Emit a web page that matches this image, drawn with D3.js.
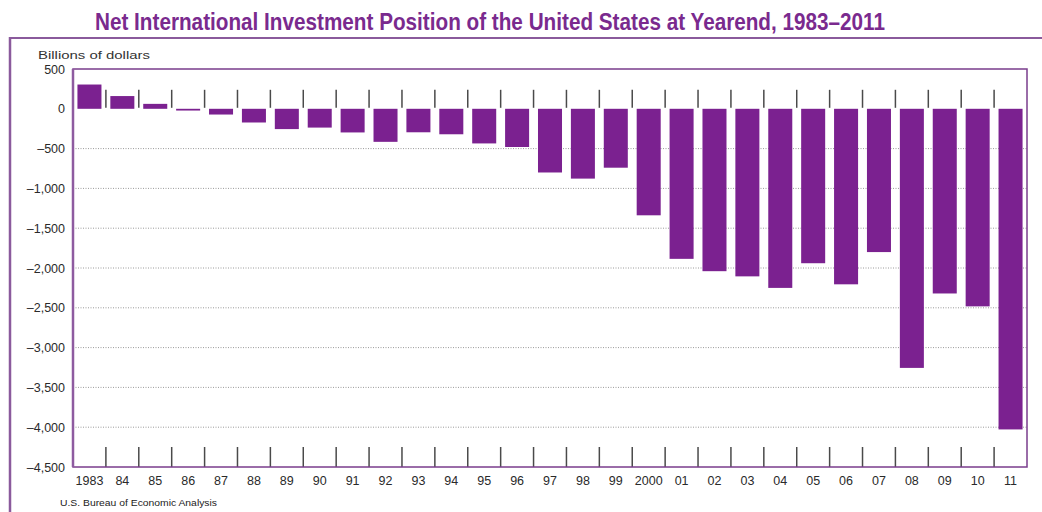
<!DOCTYPE html>
<html>
<head>
<meta charset="utf-8">
<script src="https://cdn.jsdelivr.net/npm/d3@7"></script>
<style>
  html, body { margin: 0; padding: 0; background: #ffffff; }
  svg { display: block; }
  text { font-family: "Liberation Sans", Arial, sans-serif; }
</style>
</head>
<body>
<svg id="chart" width="1042" height="512"></svg>
<script>
// Net international investment position, billions of dollars, at yearend
const years = [1983, 1984, 1985, 1986, 1987, 1988, 1989, 1990, 1991, 1992,
               1993, 1994, 1995, 1996, 1997, 1998, 1999, 2000, 2001, 2002,
               2003, 2004, 2005, 2006, 2007, 2008, 2009, 2010, 2011];
const yearLabels = ["1983", "84", "85", "86", "87", "88", "89", "90", "91", "92",
                    "93", "94", "95", "96", "97", "98", "99", "2000", "01", "02",
                    "03", "04", "05", "06", "07", "08", "09", "10", "11"];
const positions = [305, 160, 62, -22, -72, -172, -255, -236, -297, -415,
                   -295, -320, -435, -480, -800, -877, -740, -1338, -1885, -2040,
                   -2105, -2250, -1940, -2205, -1800, -3255, -2320, -2482, -4028];
const valueTicks = [500, 0, -500, -1000, -1500, -2000, -2500, -3000, -3500, -4000, -4500];

const svg = d3.select("#chart");
const purple = "#7b2190";
const frame = "#8a5a9c";

const plotLeft = 73, plotRight = 1027, plotTop = 69, plotBottom = 467;

const x = d3.scaleBand()
  .domain(years)
  .range([plotLeft, plotRight])
  .paddingInner(0.27)
  .paddingOuter(0.135);

const y = d3.scaleLinear()
  .domain([-4500, 500])
  .range([plotBottom, plotTop]);

// Title
svg.append("text")
  .attr("x", 95)
  .attr("y", 30)
  .attr("textLength", 790)
  .attr("lengthAdjust", "spacingAndGlyphs")
  .style("font-family", "'Liberation Sans Narrow', 'Liberation Sans', Arial, sans-serif")
  .style("font-weight", "bold")
  .style("font-size", "24px")
  .style("fill", "#7a2a8e")
  .text("Net International Investment Position of the United States at Yearend, 1983\u20132011");

// Outer panel edges
svg.append("line")
  .attr("x1", 10).attr("x2", 1042).attr("y1", 38).attr("y2", 38)
  .attr("stroke", frame).attr("stroke-width", 2);
svg.append("line")
  .attr("x1", 10).attr("x2", 10).attr("y1", 37).attr("y2", 512)
  .attr("stroke", frame).attr("stroke-width", 2.5);

// Unit label
svg.append("text")
  .attr("x", 38).attr("y", 59)
  .style("font-size", "11px")
  .style("fill", "#333")
  .attr("textLength", 112)
  .attr("lengthAdjust", "spacingAndGlyphs")
  .text("Billions of dollars");

// Dotted gridlines
const gridVals = valueTicks.filter(v => v < 0 && v > -4500);
svg.append("g")
  .selectAll("line")
  .data(gridVals)
  .join("line")
  .attr("x1", plotLeft).attr("x2", plotRight)
  .attr("y1", d => y(d)).attr("y2", d => y(d))
  .attr("stroke", "#9a9a9a")
  .attr("stroke-width", 1)
  .attr("stroke-dasharray", "1,1.5");

// Value axis labels
const fmt = d3.format(",");
const yAxis = d3.axisLeft(y)
  .tickValues(valueTicks)
  .tickSize(0)
  .tickPadding(8)
  .tickFormat(d => (d < 0 ? "\u2013" : "") + fmt(Math.abs(d)));
const gy = svg.append("g")
  .attr("transform", `translate(${plotLeft},0)`)
  .call(yAxis);
gy.select(".domain").remove();
gy.selectAll("text")
  .style("font-size", "12.5px")
  .style("fill", "#2a2a2a")
  .style("font-family", "'Liberation Sans', Arial, sans-serif");

// Category separators: short marks above zero and above the bottom edge
const boundaries = years.slice(1).map(d => x(d) - x.step() * x.paddingInner() / 2);
const tickG = svg.append("g").attr("stroke", "#4a4a4a").attr("stroke-width", 1.5);
tickG.selectAll("line.topTick")
  .data(boundaries)
  .join("line")
  .attr("class", "topTick")
  .attr("x1", d => d).attr("x2", d => d)
  .attr("y1", y(0) - 19).attr("y2", y(0) - 1);
tickG.selectAll("line.botTick")
  .data(boundaries)
  .join("line")
  .attr("class", "botTick")
  .attr("x1", d => d).attr("x2", d => d)
  .attr("y1", plotBottom - 20).attr("y2", plotBottom);

// Bars
svg.append("g")
  .selectAll("rect")
  .data(years.map((yr, i) => ({ yr, v: positions[i] })))
  .join("rect")
  .attr("x", d => x(d.yr))
  .attr("width", x.bandwidth())
  .attr("y", d => y(Math.max(0, d.v)))
  .attr("height", d => Math.max(1.5, Math.abs(y(d.v) - y(0))))
  .attr("fill", purple);

// Plot frame
svg.append("rect")
  .attr("x", plotLeft).attr("y", plotTop)
  .attr("width", plotRight - plotLeft).attr("height", plotBottom - plotTop)
  .attr("fill", "none")
  .attr("stroke", "#7a3d8c")
  .attr("stroke-width", 1.5);
svg.append("line")
  .attr("x1", plotLeft).attr("x2", plotLeft).attr("y1", plotTop).attr("y2", plotBottom)
  .attr("stroke", "#8e5ba0").attr("stroke-width", 2.5);

// Year labels
const xAxis = d3.axisBottom(x)
  .tickSize(0)
  .tickPadding(9)
  .tickFormat((d, i) => yearLabels[i]);
const gx = svg.append("g")
  .attr("transform", `translate(0,${plotBottom})`)
  .call(xAxis);
gx.select(".domain").remove();
gx.selectAll("text")
  .style("font-size", "12.5px")
  .style("fill", "#2a2a2a")
  .style("font-family", "'Liberation Sans', Arial, sans-serif");

// Source note
svg.append("text")
  .attr("x", 60).attr("y", 506)
  .style("font-size", "9.5px")
  .style("fill", "#222")
  .attr("textLength", 157)
  .attr("lengthAdjust", "spacingAndGlyphs")
  .text("U.S. Bureau of Economic Analysis");
</script>
</body>
</html>
